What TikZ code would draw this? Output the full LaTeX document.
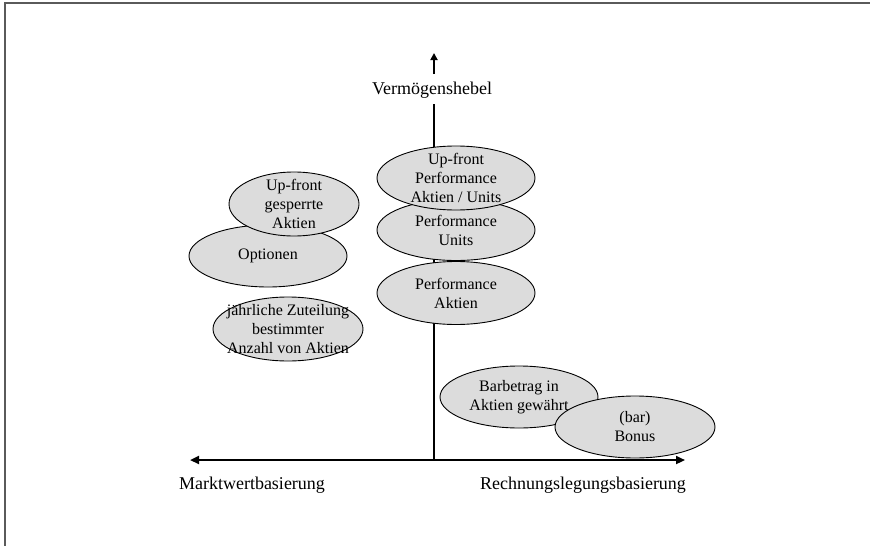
\documentclass[tikz,border=0pt]{standalone}
\usepackage{fontspec}
\setmainfont{Liberation Serif}
\usetikzlibrary{shapes.geometric,arrows.meta}
\definecolor{ellfill}{HTML}{DCDCDC}
\definecolor{framegray}{HTML}{5A5A5A}
\tikzset{
  ell/.style={ellipse, draw=black, line width=0.9pt, fill=ellfill, inner sep=0pt},
  etxt/.style={align=center, font=\fontsize{16}{19}\selectfont, inner sep=0pt},
  axlabel/.style={font=\fontsize{18}{21}\selectfont, inner sep=0pt},
  axisline/.style={line width=2.6pt, black},
  axisarrow/.style={line width=2.2pt, black, -{Triangle[length=9pt,width=8pt]}},
}
\begin{document}
\begin{tikzpicture}[x=1pt,y=-1pt]
\useasboundingbox (0,0) rectangle (870,546);
% frame
\coordinate (fl) at (5,546);
\coordinate (ftl) at (5,3);
\coordinate (ftr) at (870,3);
\draw[framegray, line width=2pt] (fl) -- (ftl) -- (ftr);
% axes
\coordinate (orig) at (434,460);
\coordinate (vtop) at (434,104);
\coordinate (hl) at (190,460);
\coordinate (hr) at (685,460);
\coordinate (sa) at (434,74);
\coordinate (sb) at (434,53);
\draw[axisline] (orig) -- (vtop);
\draw[axisarrow] (orig) -- (hl);
\draw[axisarrow] (orig) -- (hr);
\draw[line width=2pt, -{Triangle[length=7pt,width=7pt]}] (sa) -- (sb);
\node[axlabel] (lv) at (432,90) {Vermögenshebel};
\node[axlabel] (lm) at (252,485) {Marktwertbasierung};
\node[axlabel] (lr) at (583,485) {Rechnungslegungsbasierung};
% ellipses
\node[ell, minimum width=158pt, minimum height=62pt] (eopt) at (268,256) {};
\node[ell, minimum width=130pt, minimum height=64pt] (eup) at (294,204) {};
\node[ell, minimum width=150pt, minimum height=64pt] (ejz) at (288,329) {};
\node[ell, minimum width=158pt, minimum height=63pt] (epa) at (456,293) {};
\node[ell, minimum width=158pt, minimum height=61pt] (epu) at (456,230) {};
\node[ell, minimum width=158pt, minimum height=64pt] (eupp) at (456,178) {};
\node[ell, minimum width=158pt, minimum height=62pt] (ebb) at (519,397) {};
\node[ell, minimum width=160pt, minimum height=62pt] (ebo) at (635,427) {};
% texts
\node[etxt] (topt) at (eopt) {Optionen};
\node[etxt] (tup) at (eup) {Up-front\\gesperrte\\Aktien};
\node[etxt] (tjz) at (ejz) {jährliche Zuteilung\\bestimmter\\Anzahl von Aktien};
\node[etxt] (tpa) at (epa) {Performance\\Aktien};
\node[etxt] (tpu) at (epu) {Performance\\Units};
\node[etxt] (tupp) at (eupp) {Up-front\\Performance\\Aktien / Units};
\node[etxt] (tbb) at (ebb) {Barbetrag in\\Aktien gewährt};
\node[etxt] (tbo) at (ebo) {(bar)\\Bonus};
\end{tikzpicture}
\end{document}
